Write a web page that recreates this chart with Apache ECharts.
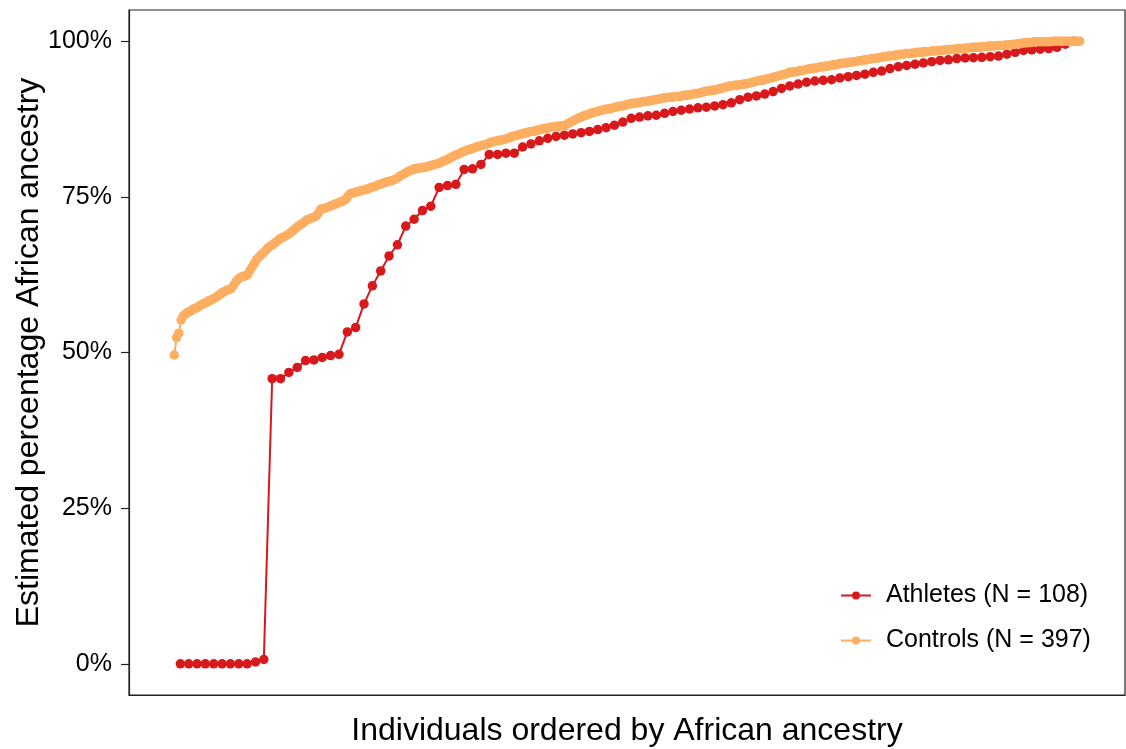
<!DOCTYPE html>
<html>
<head>
<meta charset="utf-8">
<script src="https://cdn.jsdelivr.net/npm/echarts@6/dist/echarts.min.js"></script>
<style>
html,body{margin:0;padding:0;background:#fff;}
#chart{width:1126px;height:749px;}
</style>
</head>
<body>
<div id="chart"></div>
<script>
// Estimated African ancestry (%) sorted ascending
const athletes = [
  0,0,0,0,0,0,0,0,0,0.3,0.7,
  45.8,45.8,46.8,47.6,48.7,48.8,49.2,49.5,49.7,53.3,
  54.0,57.8,60.7,63.1,65.5,67.3,70.3,71.4,72.8,73.5,
  76.5,76.8,77.0,79.4,79.5,80.2,81.8,81.8,82.0,82.0,
  83.0,83.5,84.0,84.4,84.7,84.9,85.1,85.3,85.5,85.8,
  86.1,86.5,87.0,87.6,87.8,88.0,88.1,88.4,88.7,88.9,
  89.1,89.3,89.4,89.6,89.8,90.1,90.6,91.0,91.2,91.5,
  91.9,92.4,92.8,93.1,93.4,93.6,93.7,93.8,94.1,94.3,
  94.5,94.7,95.0,95.2,95.6,95.9,96.1,96.3,96.5,96.7,
  96.9,97.0,97.2,97.3,97.35,97.4,97.5,97.6,97.9,98.2,
  98.5,98.6,98.7,98.8,99.0,99.5,100
];
const controls = [
  49.6,52.4,53.1,55.2,55.9,56.2,56.5,56.6,56.9,57.1,
  57.2,57.5,57.7,57.9,58.0,58.3,58.4,58.6,58.8,59.1,
  59.3,59.6,59.8,60.0,60.1,60.3,60.8,61.4,61.8,62.1,
  62.2,62.3,62.5,63.1,63.7,64.3,64.9,65.3,65.7,66.0,
  66.4,66.8,67.1,67.3,67.6,67.9,68.2,68.4,68.6,68.8,
  69.0,69.3,69.6,69.9,70.2,70.5,70.7,71.0,71.3,71.4,
  71.6,71.7,71.9,72.4,73.0,73.1,73.2,73.3,73.5,73.6,
  73.8,73.9,74.1,74.2,74.4,74.6,75.1,75.5,75.6,75.7,
  75.8,75.9,76.0,76.1,76.2,76.3,76.5,76.6,76.7,76.9,
  77.0,77.1,77.3,77.4,77.5,77.6,77.7,77.9,78.1,78.4,
  78.6,78.8,79.0,79.2,79.3,79.5,79.6,79.6,79.7,79.7,
  79.8,79.9,80.0,80.1,80.2,80.3,80.4,80.6,80.8,80.9,
  81.1,81.3,81.5,81.7,81.8,82.0,82.2,82.3,82.5,82.6,
  82.7,82.8,83.0,83.1,83.2,83.3,83.4,83.5,83.7,83.8,
  83.9,84.0,84.1,84.1,84.2,84.3,84.4,84.6,84.7,84.8,
  84.9,85.0,85.1,85.2,85.3,85.4,85.5,85.5,85.6,85.7,
  85.8,85.9,86.0,86.0,86.1,86.2,86.2,86.3,86.3,86.4,
  86.4,86.5,86.7,86.9,87.1,87.3,87.5,87.7,87.8,88.0,
  88.1,88.2,88.4,88.5,88.6,88.7,88.8,88.9,89.0,89.1,
  89.1,89.2,89.3,89.4,89.5,89.6,89.6,89.7,89.8,89.9,
  90.0,90.0,90.1,90.1,90.2,90.3,90.3,90.4,90.4,90.5,
  90.6,90.6,90.7,90.8,90.9,90.9,91.0,91.0,91.0,91.1,
  91.1,91.1,91.2,91.3,91.3,91.4,91.4,91.5,91.6,91.6,
  91.7,91.8,91.9,92.0,92.0,92.1,92.1,92.2,92.3,92.4,
  92.5,92.6,92.7,92.8,92.8,92.9,92.9,93.0,93.0,93.1,
  93.1,93.2,93.3,93.4,93.5,93.6,93.7,93.7,93.8,93.9,
  94.0,94.1,94.2,94.3,94.4,94.5,94.6,94.7,94.8,95.0,
  95.0,95.1,95.1,95.2,95.3,95.3,95.4,95.5,95.6,95.6,
  95.7,95.7,95.8,95.9,95.9,96.0,96.0,96.1,96.2,96.2,
  96.3,96.4,96.4,96.5,96.5,96.6,96.6,96.7,96.7,96.8,
  96.9,96.9,97.0,97.0,97.1,97.2,97.2,97.3,97.3,97.4,
  97.5,97.5,97.6,97.6,97.7,97.7,97.8,97.8,97.9,97.9,
  98.0,98.0,98.0,98.1,98.1,98.2,98.2,98.2,98.3,98.3,
  98.3,98.4,98.4,98.4,98.5,98.5,98.5,98.6,98.6,98.6,
  98.7,98.7,98.7,98.8,98.8,98.8,98.9,98.9,98.9,99.0,
  99.0,99.0,99.0,99.1,99.1,99.1,99.2,99.2,99.2,99.2,
  99.3,99.3,99.3,99.3,99.4,99.4,99.4,99.5,99.5,99.6,
  99.6,99.7,99.7,99.8,99.8,99.8,99.9,99.9,99.9,99.9,
  99.9,99.9,99.9,99.9,100,100,100,100,100,100,
  100,100,100,100,100,100,100
];
const yTicks = [0, 25, 50, 75, 100];
const seriesNames = ['Athletes (N = 108)', 'Controls (N = 397)'];
const colors = ['#D7191C', '#FDAE61'];

function toPoints(arr) {
  const n = arr.length;
  return arr.map((v, i) => [(i + 1) / (n + 1), v]);
}
const cPts = toPoints(controls);
const xMinData = cPts[0][0], xMaxData = cPts[cPts.length - 1][0];
const pad = (xMaxData - xMinData) * 0.05;

const chart = echarts.init(document.getElementById('chart'), null, {renderer: 'canvas'});
const font = 'Liberation Sans, Arial, sans-serif';
chart.setOption({
  animation: false,
  backgroundColor: '#fff',
  grid: {left: 129, right: 1, top: 10, bottom: 54, show: true, borderColor: '#222', borderWidth: 1.2,
         containLabel: false, outerBoundsMode: 'none'},
  xAxis: {
    type: 'value', min: xMinData - pad, max: xMaxData + pad,
    name: 'Individuals ordered by African ancestry', nameLocation: 'middle', nameGap: 20,
    nameMoveOverlap: false,
    nameTextStyle: {fontSize: 32, color: '#000', fontFamily: font, verticalAlign: 'top'},
    axisLine: {show: true, onZero: false, lineStyle: {color: '#222', width: 1.2}},
    axisTick: {show: false}, axisLabel: {show: false}, splitLine: {show: false}
  },
  yAxis: {
    type: 'value', min: -5, max: 105,
    name: 'Estimated percentage African ancestry', nameLocation: 'middle', nameGap: 84,
    nameMoveOverlap: false,
    nameTextStyle: {fontSize: 32, color: '#000', fontFamily: font},
    axisLine: {show: true, onZero: false, lineStyle: {color: '#222', width: 1.2}},
    axisTick: {show: true, length: 8, customValues: yTicks, lineStyle: {color: '#222', width: 1.2}},
    axisLabel: {customValues: yTicks, formatter: '{value}%', fontSize: 25, color: '#000', fontFamily: font, margin: 17},
    splitLine: {show: false}
  },
  legend: {
    orient: 'vertical', left: 835, top: 578, itemWidth: 30, itemHeight: 10, itemGap: 20,
    textStyle: {fontSize: 25, color: '#000', fontFamily: font, padding: [0, 0, 0, 10]},
    data: seriesNames
  },
  series: [
    {name: seriesNames[0], type: 'line', data: toPoints(athletes), color: colors[0],
     symbol: 'circle', symbolSize: 9.5, showSymbol: true, lineStyle: {width: 2, color: colors[0]},
     itemStyle: {color: colors[0]}, z: 2},
    {name: seriesNames[1], type: 'line', data: cPts, color: colors[1],
     symbol: 'circle', symbolSize: 9.5, showSymbol: true, lineStyle: {width: 2, color: colors[1]},
     itemStyle: {color: colors[1]}, z: 3}
  ]
});
</script>
</body>
</html>
